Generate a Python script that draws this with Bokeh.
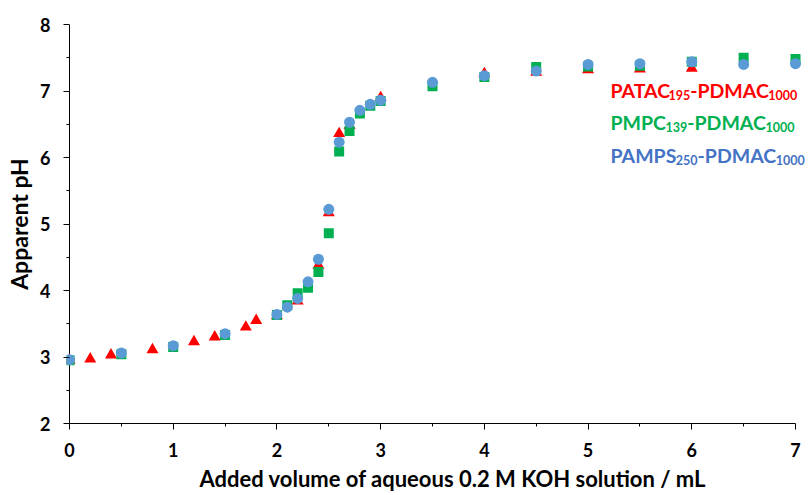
from bokeh.plotting import figure
from bokeh.models import Label, FixedTicker, Title, Span
from bokeh.embed import file_html
from bokeh.resources import INLINE

# ---- data ----
patac_x = [0, 0.2, 0.4, 0.8, 1.2, 1.4, 1.7, 1.8, 2.0, 2.2, 2.4, 2.5, 2.6, 2.7, 3.0, 4.0, 4.5, 5.0, 5.5, 6.0]
patac_ph = [2.95, 2.97, 3.03, 3.11, 3.23, 3.30, 3.45, 3.55, 3.62, 3.84, 4.38, 5.17, 6.36, 6.48, 6.90, 7.26, 7.28, 7.32, 7.33, 7.34]

pmpc_x = [0, 0.5, 1.0, 1.5, 2.0, 2.1, 2.2, 2.3, 2.4, 2.5, 2.6, 2.7, 2.8, 2.9, 3.0, 3.5, 4.0, 4.5, 5.0, 5.5, 6.0, 6.5, 7.0]
pmpc_ph = [2.95, 3.04, 3.15, 3.33, 3.63, 3.78, 3.96, 4.04, 4.28, 4.86, 6.09, 6.40, 6.66, 6.78, 6.85, 7.07, 7.21, 7.36, 7.37, 7.38, 7.44, 7.50, 7.48]

pamps_x = [0, 0.5, 1.0, 1.5, 2.0, 2.1, 2.2, 2.3, 2.4, 2.5, 2.6, 2.7, 2.8, 2.9, 3.0, 3.5, 4.0, 4.5, 5.0, 5.5, 6.0, 6.5, 7.0]
pamps_ph = [2.96, 3.06, 3.17, 3.35, 3.64, 3.75, 3.88, 4.13, 4.47, 5.22, 6.23, 6.53, 6.71, 6.80, 6.86, 7.13, 7.23, 7.30, 7.40, 7.41, 7.44, 7.40, 7.41]

x_ticks = [0, 1, 2, 3, 4, 5, 6, 7]
x_minor = [0.5, 1.5, 2.5, 3.5, 4.5, 5.5, 6.5]
y_ticks = [2, 3, 4, 5, 6, 7, 8]
y_minor = [2.5, 3.5, 4.5, 5.5, 6.5, 7.5]

legend_main = ["PATAC", "PMPC", "PAMPS"]
legend_sub = ["195", "139", "250"]
legend_main2 = "-PDMAC"
legend_sub2 = "1000"
legend_colors = ["#FF0000", "#00B050", "#4472C4"]

x_title = "Added volume of aqueous 0.2 M KOH solution / mL"
y_title = "Apparent pH"

FONT = "Lato"

# frame a little wider than the axes so edge markers and the legend are not cut
PX_PER_UNIT = 103.7
FRAME_LEFT, FRAME_BOTTOM = 66, 424
X0, X1 = -3 / PX_PER_UNIT, 7 + 14 / PX_PER_UNIT

p = figure(width=809, height=495, x_range=(X0, X1), y_range=(2, 8),
           output_backend="svg", toolbar_location=None,
           min_border_left=FRAME_LEFT, min_border_right=0, min_border_top=24, min_border_bottom=71)
p.xgrid.visible = False
p.ygrid.visible = False
p.outline_line_color = None
p.background_fill_color = "white"
p.border_fill_color = "white"

p.xaxis.ticker = FixedTicker(ticks=x_ticks, minor_ticks=x_minor)
p.yaxis.ticker = FixedTicker(ticks=y_ticks, minor_ticks=y_minor)
p.xaxis.bounds = (0, 7)
p.yaxis.bounds = (2, 8)

for ax in (p.xaxis, p.yaxis):
    ax.axis_line_color = "black"
    ax.axis_line_width = 1
    ax.major_tick_line_color = "black"
    ax.minor_tick_line_color = "black"
    ax.major_label_text_font = FONT
    ax.major_label_text_font_style = "bold"
    ax.major_label_text_font_size = "18px"
    ax.major_label_text_color = "black"

p.xaxis.major_tick_in = 0
p.xaxis.major_tick_out = 6
p.xaxis.minor_tick_in = 0
p.xaxis.minor_tick_out = 3
p.xaxis.major_label_standoff = 13

# y axis: its line is drawn at x = 0 (Span), ticks reach from x = 0 outward
p.yaxis.axis_line_color = None
p.yaxis.major_tick_in = 3
p.yaxis.major_tick_out = 3
p.yaxis.minor_tick_in = 3
p.yaxis.minor_tick_out = 0
p.yaxis.major_label_standoff = 13
p.add_layout(Span(location=0, dimension="height", line_color="black", line_width=1, level="underlay"))

p.yaxis.axis_label = y_title
p.yaxis.axis_label_text_font = FONT
p.yaxis.axis_label_text_font_style = "bold"
p.yaxis.axis_label_text_font_size = "23px"
p.yaxis.axis_label_text_color = "black"
p.yaxis.axis_label_standoff = 4

p.scatter(patac_x, patac_ph, marker="triangle", size=12, fill_color="#FF0000", line_color=None)
p.scatter(pmpc_x, pmpc_ph, marker="square", size=10, fill_color="#00B050", line_color=None)
p.scatter(pamps_x, pamps_ph, marker="circle", size=11, fill_color="#5B9BD5", line_color=None)

# x-axis title, placed off-centre as in the reference
p.add_layout(Title(text=x_title, align="left", offset=199 - FRAME_LEFT, standoff=7,
                   text_font=FONT, text_font_style="bold", text_font_size="22px",
                   text_color="black"), "below")

# legend text with subscripts
W = {"P": 0.62, "A": 0.68, "T": 0.52, "C": 0.67, "M": 0.91, "S": 0.52, "D": 0.76, "-": 0.37}
KERN = {"AT": -0.1, "TA": -0.1}
def tw(s, size):
    w = sum(W.get(c, 0.58) for c in s)
    w += sum(KERN.get(s[k:k + 2], 0) for k in range(len(s) - 1))
    return w * size

MAIN, SUB = 19.5, 12.5
baselines = [91, 123, 156]
for i in range(3):
    x = 610 - FRAME_LEFT
    y = FRAME_BOTTOM - baselines[i]
    for txt, sz, dy in ((legend_main[i], MAIN, 0), (legend_sub[i], SUB, -4),
                        (legend_main2, MAIN, 0), (legend_sub2, SUB, -4)):
        p.add_layout(Label(x=x, y=y + dy, x_units="screen", y_units="screen", text=txt,
                           text_font=FONT, text_font_style="bold", text_font_size=f"{sz}px",
                           text_color=legend_colors[i], text_align="left", text_baseline="alphabetic"))
        x += tw(txt, sz)

open("out.html", "w").write(file_html(p, INLINE))
